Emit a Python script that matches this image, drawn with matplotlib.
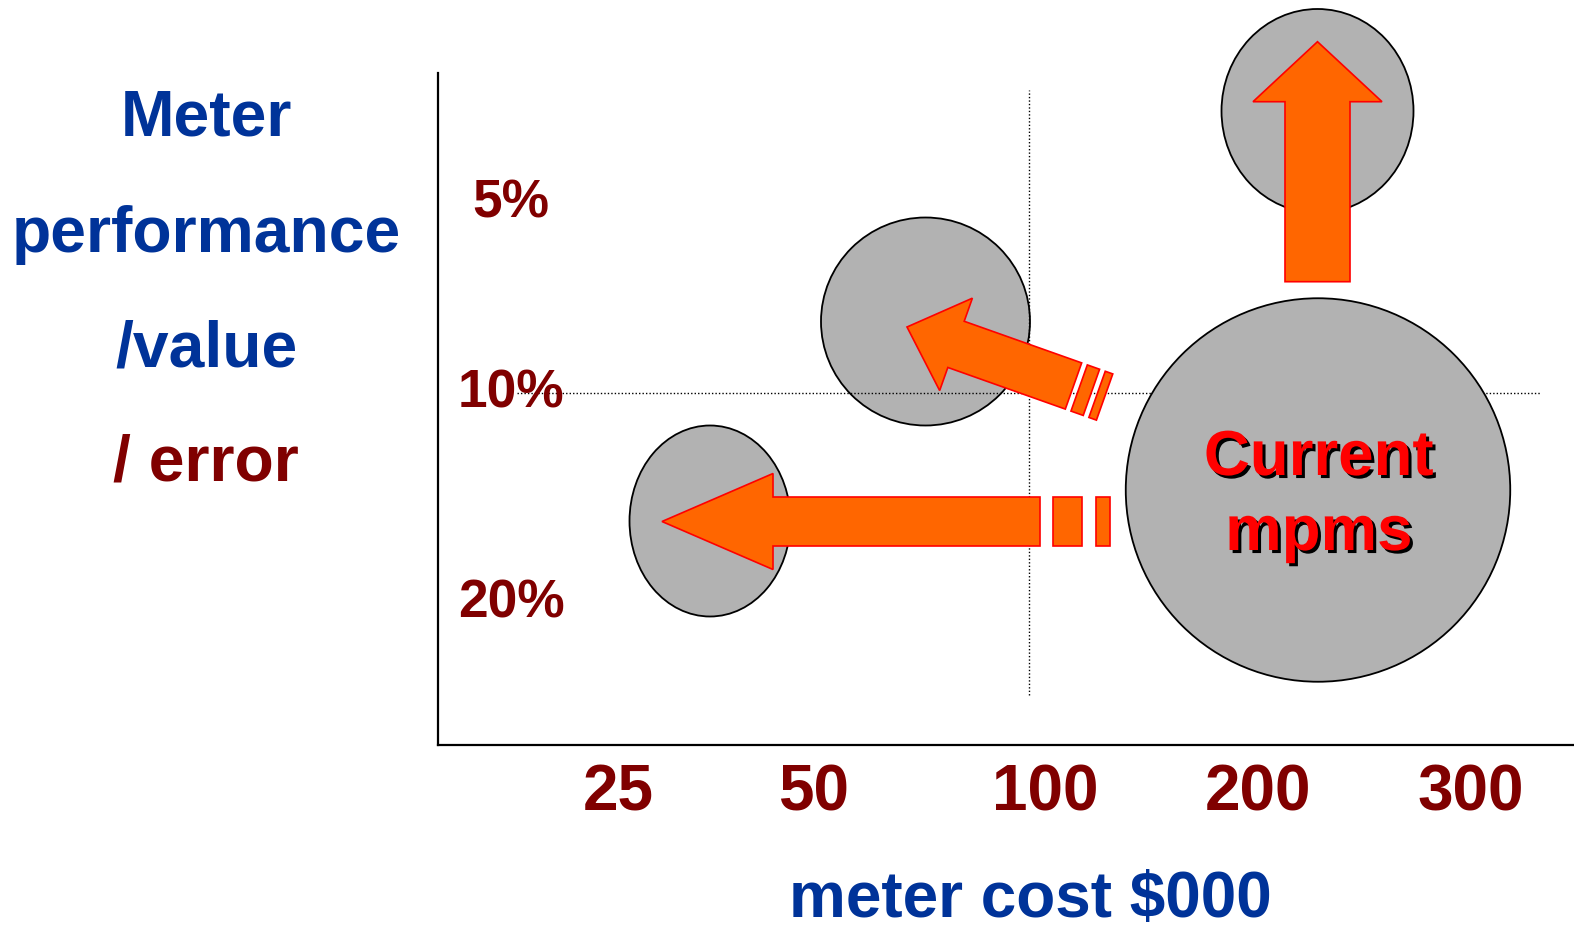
import numpy as np
import matplotlib
matplotlib.use("Agg")
import matplotlib.pyplot as plt
from matplotlib.patches import Ellipse, Polygon
import matplotlib.patheffects as pe

plt.rcParams['font.family'] = ['Liberation Sans', 'DejaVu Sans']
plt.rcParams['font.weight'] = 'bold'

BLUE = '#003399'
MAROON = '#800000'
ORANGE = '#FF6600'
GREY = '#B2B2B2'

# axis labels / ticks
cost_labels = ['25', '50', '100', '200', '300']
cost_pos = [180, 376, 607, 820, 1033]
error_labels = ['5%', '10%', '20%']
error_pos = [528, 337, 128]

# bubbles: centre x, centre y, width, height
bubble_x = [272, 487.5, 879.5, 880]
bubble_y = [224, 423.5, 634, 255]
bubble_w = [161, 209, 192, 384.5]
bubble_h = [191, 208, 204, 383.5]

# reference lines
ref_x = 590.5
ref_y = 352.5

# arrows: tail -> tip, shaft width, head width, head length, dashes behind tail
arrow_tail = [(602, 223.5), (635.5, 359), (879.5, 463.3)]
arrow_tip = [(224, 223.5), (469, 418), (879.5, 703.3)]
arrow_shaft = [49, 49, 65]
arrow_head = [96, 98, 129]
arrow_head_len = [111, 52, 60]
arrow_dashes = [[(13, 42), (56, 70)], [(6, 19), (25, 33)], []]


def arrow_polys(tail, tip, sw, hw, hl, dashes):
    tail = np.array(tail, float)
    tip = np.array(tip, float)
    u = (tip - tail) / np.linalg.norm(tip - tail)
    n = np.array([-u[1], u[0]])
    base = tip - u * hl
    body = [tail + n * sw / 2, base + n * sw / 2, base + n * hw / 2, tip,
            base - n * hw / 2, base - n * sw / 2, tail - n * sw / 2]
    polys = [body]
    for a, b in dashes:
        p0 = tail - u * a
        p1 = tail - u * b
        polys.append([p0 + n * sw / 2, p1 + n * sw / 2, p1 - n * sw / 2, p0 - n * sw / 2])
    return polys


W, H = 1574, 927
X0, Y0, TOP = 438, 745, 73
fig = plt.figure(figsize=(W / 100, H / 100), dpi=100)
ax = fig.add_axes([X0 / W, (H - Y0) / H, (W - X0) / W, (Y0 - TOP) / H])
ax.set_xlim(0, W - X0)
ax.set_ylim(0, Y0 - TOP)

for s in ['top', 'right']:
    ax.spines[s].set_visible(False)
for s in ['left', 'bottom']:
    ax.spines[s].set_linewidth(1.6)
    ax.spines[s].set_color('black')

ax.set_yticks([])
ax.set_xticks(cost_pos)
ax.set_xticklabels(cost_labels, fontsize=46, color=MAROON, fontweight='bold')
ax.tick_params(axis='x', length=0, pad=13)

for lab, y in zip(error_labels, error_pos):
    ax.text(73, y, lab, fontsize=38.3, color=MAROON, ha='center', va='baseline')

# bubbles
for i, (x, y, w, h) in enumerate(zip(bubble_x, bubble_y, bubble_w, bubble_h)):
    z = 3 if i == 3 else 1
    ax.add_patch(Ellipse((x, y), w, h, facecolor=GREY, edgecolor='black',
                         linewidth=1.3, zorder=z, clip_on=False))

# dotted reference lines
ax.plot([ref_x, ref_x], [50, 655], color='black', lw=1.0,
        linestyle=(0, (1, 1.5)), zorder=2)
ax.plot([79, 1103], [ref_y, ref_y], color='black', lw=1.0,
        linestyle=(0, (1, 1.5)), zorder=2)

# arrows
for tail, tip, sw, hw, hl, d in zip(arrow_tail, arrow_tip, arrow_shaft,
                                    arrow_head, arrow_head_len, arrow_dashes):
    for pts in arrow_polys(tail, tip, sw, hw, hl, d):
        ax.add_patch(Polygon(pts, closed=True, facecolor=ORANGE, edgecolor='red',
                             linewidth=1.2, zorder=4, clip_on=False))

shadow = [pe.SimplePatchShadow(offset=(2.2, -2.2), shadow_rgbFace='black', alpha=1),
          pe.Normal()]
ax.text(881, Y0 - 475, 'Current', fontsize=45.8, color='red', ha='center',
        va='baseline', zorder=5, path_effects=shadow)
ax.text(881, Y0 - 550, 'mpms', fontsize=45.8, color='red', ha='center',
        va='baseline', zorder=5, path_effects=shadow)

# left-hand axis title
title_lines = ['Meter', 'performance', '/value', '/ error']
title_colors = [BLUE, BLUE, BLUE, MAROON]
title_base = [136, 252, 366, 481]
for t, c, yb in zip(title_lines, title_colors, title_base):
    fig.text(206 / W, 1 - yb / H, t, fontsize=46.3, color=c, ha='center',
             va='baseline')

fig.text(1030 / W, 1 - 917 / H, 'meter cost $000', fontsize=46, color=BLUE,
         ha='center', va='baseline')

fig.savefig('out.png', dpi=100)
